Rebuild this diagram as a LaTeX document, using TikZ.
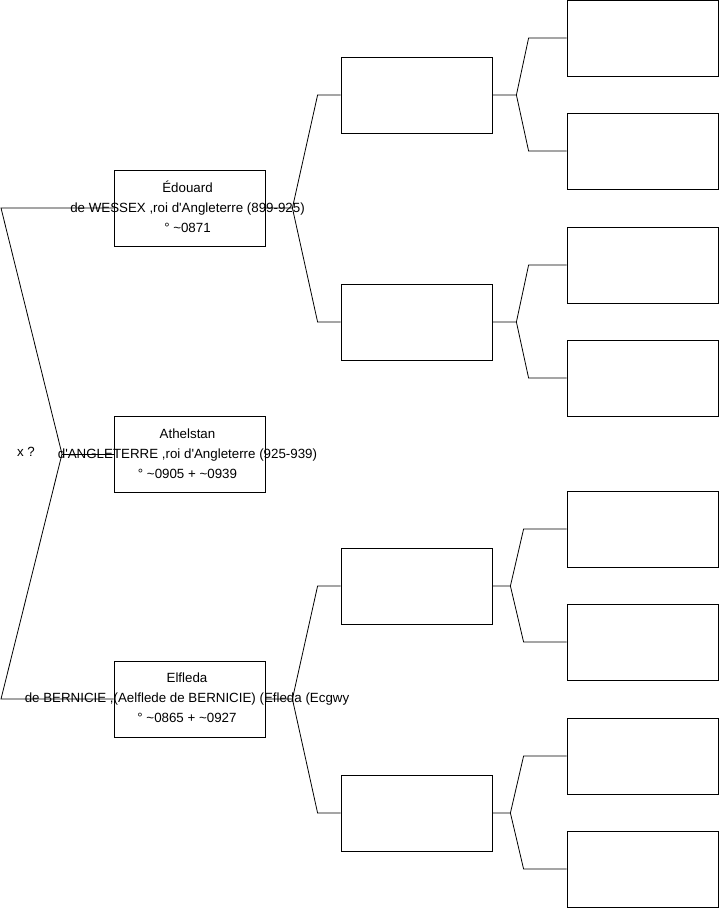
\documentclass[tikz,border=0pt]{standalone}
\usepackage{fontspec}
\setmainfont{Liberation Sans}
\begin{document}
\begin{tikzpicture}[x=1pt, y=-1pt, line width=0.8pt,
    pers/.style={draw, minimum width=151pt, minimum height=76pt, inner sep=0pt},
    txt/.style={align=center, font=\fontsize{13.33}{20}\selectfont, inner sep=0pt}]
    \useasboundingbox (0,0) rectangle (719,908);

    % --- 1. Fratrie ---
    \node[pers] (edouard) at (189.5,208) {};
    \node[pers] (athelstan) at (189.5,454) {};
    \node[pers] (elfleda) at (189.5,699) {};
    \node[txt] (edouardT) at (187.5,207) {Édouard\\de WESSEX ,roi d\textquotesingle Angleterre (899-925)\\° \textasciitilde 0871};
    \node[txt] (athelstanT) at (187.5,453.5) {Athelstan\\d\textquotesingle ANGLETERRE ,roi d\textquotesingle Angleterre (925-939)\\° \textasciitilde 0905 + \textasciitilde 0939};
    \node[txt] (elfledaT) at (187,698) {Elfleda\\de BERNICIE ,(Aelflede de BERNICIE) (Efleda (Ecgwy\\° \textasciitilde 0865 + \textasciitilde 0927};
    \node[txt] (xq) at (26,452) {x ?};

    % accolade de gauche
    \coordinate (fork) at (62,454);
    \coordinate (hautG) at (1,208);
    \coordinate (basG) at (1,699);
    \draw (edouard.west) -- (hautG) -- (fork) -- (basG) -- (elfleda.west);
    \draw (fork) -- (athelstan.west);

    % --- 2. Parents ---
    \node[pers] (e1) at (416.5,95) {};
    \node[pers] (e2) at (416.5,322) {};
    \node[pers] (f1) at (416.5,586) {};
    \node[pers] (f2) at (416.5,813) {};

    \draw (edouard.east) -- ++(27,0) coordinate (fe) -- ([xshift=-23pt]e1.west) -- (e1.west);
    \draw (fe) -- ([xshift=-23pt]e2.west) -- (e2.west);
    \draw (elfleda.east) -- ++(27,0) coordinate (ff) -- ([xshift=-23pt]f1.west) -- (f1.west);
    \draw (ff) -- ([xshift=-23pt]f2.west) -- (f2.west);

    % --- 3. Grands-parents ---
    \node[pers] (e11) at (642.5,38) {};
    \node[pers] (e12) at (642.5,151) {};
    \node[pers] (e21) at (642.5,265) {};
    \node[pers] (e22) at (642.5,378) {};
    \node[pers] (f11) at (642.5,529) {};
    \node[pers] (f12) at (642.5,642) {};
    \node[pers] (f21) at (642.5,756) {};
    \node[pers] (f22) at (642.5,869) {};

    \draw (e1.east) -- ++(24,0) coordinate (fe1) -- ([xshift=-38pt]e11.west) -- (e11.west);
    \draw (fe1) -- ([xshift=-38pt]e12.west) -- (e12.west);
    \draw (e2.east) -- ++(24,0) coordinate (fe2) -- ([xshift=-38pt]e21.west) -- (e21.west);
    \draw (fe2) -- ([xshift=-38pt]e22.west) -- (e22.west);
    \draw (f1.east) -- ++(18,0) coordinate (ff1) -- ([xshift=-43pt]f11.west) -- (f11.west);
    \draw (ff1) -- ([xshift=-43pt]f12.west) -- (f12.west);
    \draw (f2.east) -- ++(18,0) coordinate (ff2) -- ([xshift=-43pt]f21.west) -- (f21.west);
    \draw (ff2) -- ([xshift=-43pt]f22.west) -- (f22.west);
\end{tikzpicture}
\end{document}
